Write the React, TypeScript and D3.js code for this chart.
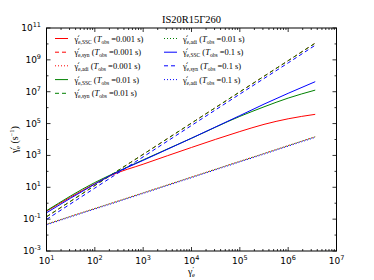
import React from 'react';
import * as d3 from 'd3';

// log10 of gamma'_e where the curves were read
const gammaLog = [1, 2, 2.34, 3, 4, 5, 5.5, 6, 6.56];

// log10 of the cooling rates (s^-1)
const sscRed = [-0.5, 1.22, 1.75, 2.45, 3.5, 4.5, 4.95, 5.3, 5.58];
const synRed = [-0.85, 1.11, 1.78, 3.07, 5.03, 6.99, 7.97, 8.95, 10.05];
const adiRed = [-1.32, -0.33, 0.0, 0.65, 1.64, 2.63, 3.12, 3.62, 4.17];
const sscGreen = [-0.47, 1.3, 1.8, 2.72, 4.08, 5.45, 6.05, 6.6, 7.1];
const synGreen = [-0.85, 1.11, 1.78, 3.07, 5.03, 6.99, 7.97, 8.95, 10.05];
const adiGreen = [-1.32, -0.33, 0.0, 0.65, 1.64, 2.63, 3.12, 3.62, 4.17];
const sscBlue = [-0.6, 1.2, 1.77, 2.69, 4.08, 5.5, 6.22, 6.9, 7.63];
const synBlue = [-1.02, 0.95, 1.62, 2.91, 4.88, 6.85, 7.83, 8.81, 9.92];
const adiBlue = [-1.36, -0.37, -0.04, 0.61, 1.6, 2.59, 3.08, 3.58, 4.13];

const xTickExp = [1, 2, 3, 4, 5, 6, 7];
const yTickExp = [-3, -1, 1, 3, 5, 7, 9, 11];
const yMinorExp = [-2, 0, 2, 4, 6, 8, 10];

const title = 'IS20R15\u0393260';

type Series = { vals: number[]; color: string; dash: string | null; off: number; kind: string; tobs: string };

const series: Series[] = [
  { vals: sscRed, color: '#ff0000', dash: null, off: 0, kind: 'e,SSC', tobs: '0.001' },
  { vals: synRed, color: '#ff0000', dash: '4,3', off: 0, kind: 'e,syn', tobs: '0.001' },
  { vals: adiRed, color: '#ff0000', dash: '1,2', off: 0, kind: 'e,adi', tobs: '0.001' },
  { vals: sscGreen, color: '#008000', dash: null, off: 0, kind: 'e,SSC', tobs: '0.01' },
  { vals: synGreen, color: '#008000', dash: '4,3', off: 0, kind: 'e,syn', tobs: '0.01' },
  { vals: adiGreen, color: '#008000', dash: '1,2', off: 1, kind: 'e,adi', tobs: '0.01' },
  { vals: sscBlue, color: '#0000ff', dash: null, off: 0, kind: 'e,SSC', tobs: '0.1' },
  { vals: synBlue, color: '#0000ff', dash: '4,3', off: 0, kind: 'e,syn', tobs: '0.1' },
  { vals: adiBlue, color: '#0000ff', dash: '1,2', off: 2, kind: 'e,adi', tobs: '0.1' },
];

const L = 46.5, R = 336.5, T = 28, B = 251;
const serif = '"Liberation Serif", "DejaVu Serif", serif';
const sans = '"DejaVu Sans", sans-serif';

export default function App() {
  const x = d3.scaleLog().domain([10, 1e7]).range([L, R]);
  const y = d3.scaleLog().domain([1e-3, 1e11]).range([B, T]);

  const line = d3.line<number>()
    .x((_, i) => x(Math.pow(10, gammaLog[i])))
    .y(d => y(Math.pow(10, d)))
    .curve(d3.curveMonotoneX);

  const xMinor: number[] = [];
  for (let k = 1; k < 7; k++) for (let m = 2; m <= 9; m++) xMinor.push(m * Math.pow(10, k));

  const legendRows = [38.5, 52.2, 65.8, 79.6, 93.3];

  return (
    <svg width={374} height={280} style={{ position: 'absolute', left: 0, top: 0, background: '#fff' }}>
      <rect width={374} height={280} fill="#fff" />
      <text x={(L + R) / 2} y={23} textAnchor="middle" fontFamily={serif} fontSize={10.5}>{title}</text>

      <defs>
        <clipPath id="plot"><rect x={L} y={T} width={R - L} height={B - T} /></clipPath>
      </defs>

      <g clipPath="url(#plot)">
        {series.map((s, i) => (
          <path key={i} d={line(s.vals) || ''} fill="none" stroke={s.color} strokeWidth={1}
            strokeDasharray={s.dash || undefined} strokeDashoffset={s.off} />
        ))}
      </g>

      {/* ticks */}
      <g stroke="#000" strokeWidth={0.8}>
        {xTickExp.map(e => {
          const px = x(Math.pow(10, e));
          return (
            <g key={'xt' + e}>
              <line x1={px} x2={px} y1={B} y2={B - 4} />
              <line x1={px} x2={px} y1={T} y2={T + 4} />
            </g>
          );
        })}
        {xMinor.map((v, i) => {
          const px = x(v);
          return (
            <g key={'xm' + i}>
              <line x1={px} x2={px} y1={B} y2={B - 2} />
              <line x1={px} x2={px} y1={T} y2={T + 2} />
            </g>
          );
        })}
        {yTickExp.map(e => {
          const py = y(Math.pow(10, e));
          return (
            <g key={'yt' + e}>
              <line x1={L} x2={L + 4} y1={py} y2={py} />
              <line x1={R} x2={R - 4} y1={py} y2={py} />
            </g>
          );
        })}
        {yMinorExp.map(e => {
          const py = y(Math.pow(10, e));
          return (
            <g key={'ym' + e}>
              <line x1={L} x2={L + 2} y1={py} y2={py} />
              <line x1={R} x2={R - 2} y1={py} y2={py} />
            </g>
          );
        })}
      </g>
      <rect x={L} y={T} width={R - L} height={B - T} fill="none" stroke="#000" strokeWidth={1} />

      {/* tick labels */}
      <g fontFamily={sans} fontSize={9} fill="#000">
        {xTickExp.map(e => (
          <text key={'xl' + e} x={x(Math.pow(10, e))} y={264} textAnchor="middle">
            10<tspan fontSize={6.5} dy={-4}>{e}</tspan>
          </text>
        ))}
        {yTickExp.map(e => (
          <text key={'yl' + e} x={41} y={y(Math.pow(10, e)) + 3} textAnchor="end">
            10<tspan fontSize={6.5} dy={-4}>{e < 0 ? '-' + Math.abs(e) : e}</tspan>
          </text>
        ))}
      </g>

      {/* axis labels */}
      <text x={(L + R) / 2} y={275} textAnchor="middle" fontFamily={serif} fontSize={10}>
        {'\u03b3'}<tspan fontSize={7} dy={-4}>{'\u2032'}</tspan><tspan fontSize={6.5} dy={6} dx={-2}>e</tspan>
      </text>
      <text transform={`translate(18,${(T + B) / 2}) rotate(-90)`} textAnchor="middle" fontFamily={serif} fontSize={10}>
        {'\u03b3\u0307'}<tspan fontSize={7} dy={-4}>{'\u2032'}</tspan><tspan fontSize={6.5} dy={6} dx={-2}>e</tspan>
        <tspan dy={-2}>{' (s'}</tspan><tspan fontSize={6.5} dy={-4}>{'\u22121'}</tspan><tspan dy={4}>)</tspan>
      </text>

      {/* legend */}
      {series.map((s, i) => {
        const col = i < 5 ? 0 : 1;
        const row = col === 0 ? i : i - 5;
        const lx = col === 0 ? 55 : 164;
        const tx = col === 0 ? 74.5 : 183;
        const ly = legendRows[row];
        return (
          <g key={'lg' + i}>
            <line x1={lx} x2={lx + 13} y1={ly} y2={ly} stroke={s.color} strokeWidth={1}
              strokeDasharray={s.dash || undefined} />
            <text x={tx} y={ly + 3} fontFamily={serif} fontSize={8.5}>
              {'\u03b3\u0307'}<tspan fontSize={6} dy={-3}>{'\u2032'}</tspan>
              <tspan fontSize={5.5} dy={5} dx={-1.5}>{s.kind}</tspan>
              <tspan dy={-2}>{' ('}</tspan><tspan fontStyle="italic">T</tspan>
              <tspan fontSize={5.5} dy={2}>obs</tspan>
              <tspan dy={-2}>{' =' + s.tobs + ' s)'}</tspan>
            </text>
          </g>
        );
      })}
    </svg>
  );
}
